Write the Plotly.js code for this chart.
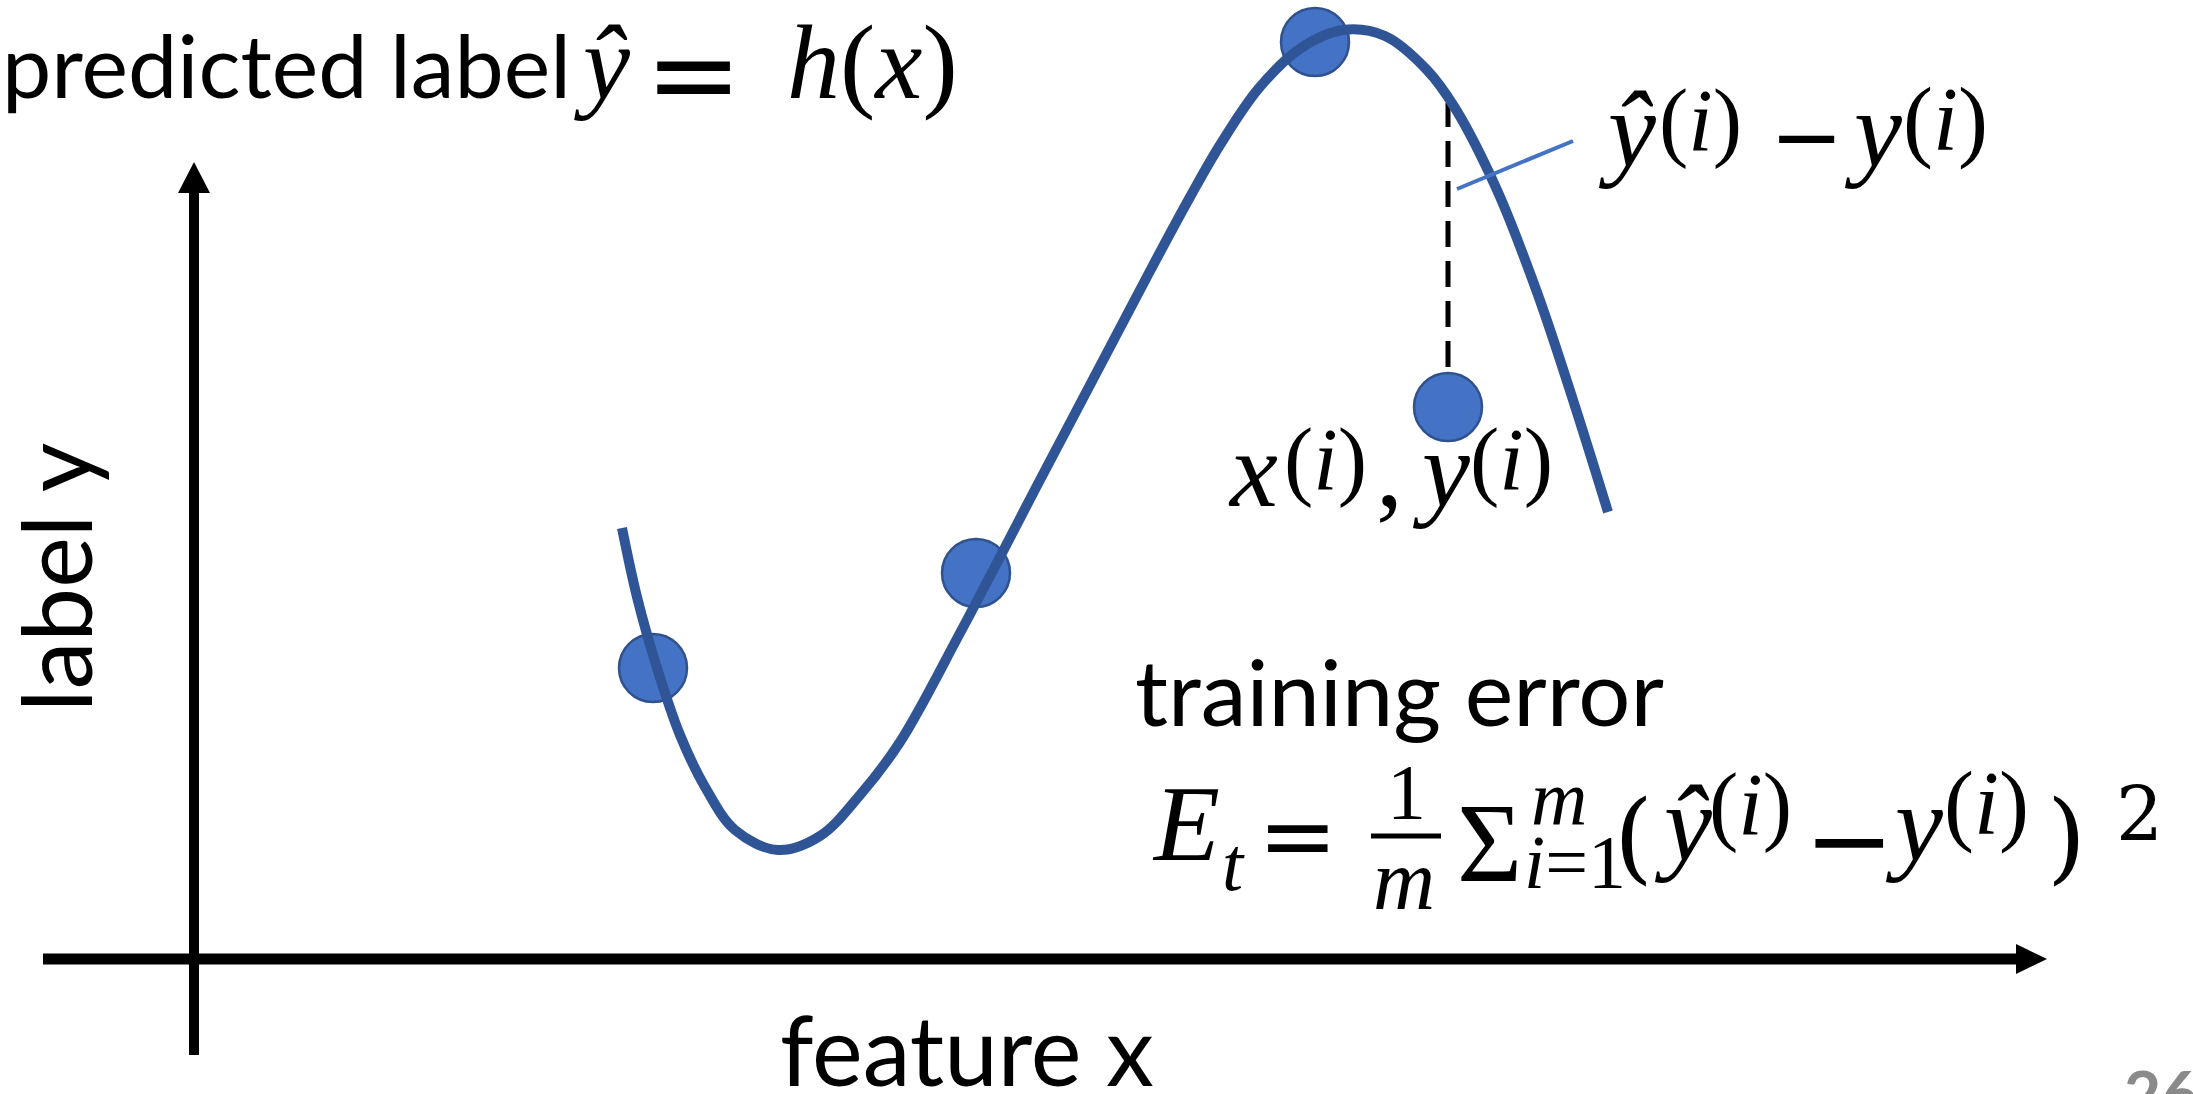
<!DOCTYPE html>
<html>
<head>
<meta charset="utf-8">
<script src="https://cdn.plot.ly/plotly-3.0.1.min.js"></script>
<style>
  html, body { margin: 0; padding: 0; background: #ffffff; overflow: hidden; }
  #chart { width: 2193px; height: 1094px; }
</style>
</head>
<body>
<div id="chart"></div>
<script>
// Hypothesis h(x): sampled points of the fitted curve (feature x, label y units)
const curveX = [4.28, 4.43, 4.63, 4.86, 5.11, 5.41, 5.84, 6.26, 6.66, 7.06, 7.66,
                8.46, 9.06, 9.56, 9.96, 10.26, 10.65, 11.07, 11.49, 11.91, 12.33, 12.61, 13.03, 13.44, 13.79, 14.14];
const curveY = [4.31, 3.62, 2.91, 2.24, 1.72, 1.29, 1.09, 1.23, 1.64, 2.17, 3.26,
                4.79, 5.93, 6.88, 7.62, 8.14, 8.71, 9.11, 9.29, 9.23, 8.89, 8.51, 7.69, 6.64, 5.59, 4.47];

// Training samples (x^(i), y^(i))
const sampleX = [4.59, 7.82, 11.21, 12.54];
const sampleY = [2.91, 3.86, 9.17, 5.52];

// Highlighted sample and its prediction y-hat = h(x) on the curve
const errX = [12.54, 12.54];
const errY = [5.52, 8.56];

// Axis extents (same units)
const xAxisSpan = [-1.51, 18.53];
const yAxisSpan = [-0.96, 7.97];

// Plot window, 1 unit = 100 px
const W = 2193, H = 1094;
const xRange = [-1.94, -1.94 + W / 100];
const yRange = [9.59 - H / 100, 9.59];

const BLUE_DARK = '#2F5597';
const BLUE = '#4472C4';
const SANS = 'Lato, "Open Sans", sans-serif';
const SERIF = '"Liberation Serif", "DejaVu Serif", serif';
const OPS = '"DejaVu Sans", sans-serif';
const BRACKET = '"DejaVu Serif", serif';

// distance from baseline up to the middle of the text box, per em
const MID = { [SANS]: 0.387, [SERIF]: 0.3375, [OPS]: 0.346, [BRACKET]: 0.346 };

function note(px, py, text, opts) {
  return Object.assign({
    xref: 'paper', yref: 'paper', x: px / W, y: 1 - py / H,
    text: text, showarrow: false,
    xanchor: 'left', yanchor: 'middle',
    font: { family: SANS, size: 92, color: '#000000' }
  }, opts || {});
}
// text piece placed on a baseline
function onBase(text, px, base, size, family, opts) {
  const fam = family || SERIF;
  return note(px, base - MID[fam] * size, text,
    Object.assign({ font: { family: fam, size: size, color: '#000000' } }, opts || {}));
}
// text piece placed by the middle of its box
function onMid(text, px, mid, size, family, opts) {
  return note(px, mid, text,
    Object.assign({ font: { family: family || SERIF, size: size, color: '#000000' } }, opts || {}));
}
function v(s) { return '<i>' + s + '</i>'; }
const IDX = '(' + v('i') + ')';

const traces = [
  {
    x: errX, y: errY, type: 'scatter', mode: 'lines',
    line: { color: '#000000', width: 5, dash: '26px,14px' },
    hoverinfo: 'skip', showlegend: false
  },
  {
    x: sampleX, y: sampleY, type: 'scatter', mode: 'markers',
    marker: { size: 68, color: BLUE, opacity: 1, line: { color: '#2F528F', width: 2.5 } },
    hoverinfo: 'skip', showlegend: false
  },
  {
    x: curveX, y: curveY, type: 'scatter', mode: 'lines',
    line: { color: BLUE_DARK, width: 10, shape: 'spline', smoothing: 1 },
    hoverinfo: 'skip', showlegend: false
  }
];

const shapes = [
  // horizontal axis with arrow head
  { type: 'line', xref: 'x', yref: 'y', x0: xAxisSpan[0], x1: xAxisSpan[1] - 0.31, y0: 0, y1: 0,
    line: { color: '#000000', width: 11 } },
  { type: 'path', xref: 'x', yref: 'y',
    path: `M ${xAxisSpan[1] - 0.31} 0.15 L ${xAxisSpan[1]} 0 L ${xAxisSpan[1] - 0.31} -0.15 Z`,
    fillcolor: '#000000', line: { width: 0 } },
  // vertical axis with arrow head
  { type: 'line', xref: 'x', yref: 'y', x0: 0, x1: 0, y0: yAxisSpan[0], y1: yAxisSpan[1] - 0.31,
    line: { color: '#000000', width: 10 } },
  { type: 'path', xref: 'x', yref: 'y',
    path: `M -0.16 ${yAxisSpan[1] - 0.31} L 0 ${yAxisSpan[1]} L 0.16 ${yAxisSpan[1] - 0.31} Z`,
    fillcolor: '#000000', line: { width: 0 } },
  // leader line for the error label
  { type: 'line', xref: 'x', yref: 'y', x0: 12.63, y0: 7.70, x1: 13.79, y1: 8.18,
    line: { color: BLUE, width: 4 } },
  // fraction bar of 1/m
  { type: 'line', xref: 'paper', yref: 'paper', x0: 1371 / W, x1: 1441 / W, y0: 1 - 836 / H, y1: 1 - 836 / H,
    line: { color: '#000000', width: 5 } }
];

const annotations = [
  // title: predicted label ŷ = h(x)
  onBase('predicted label', 0, 98, 88, SANS),
  onBase(v('ŷ'), 572, 98, 106),
  onMid('=', 643, 73, 116, OPS),
  onBase(v('h') + '(' + v('x') + ')', 785, 98, 106),

  // axis names and caption
  note(54, 578, 'label y', { xanchor: 'center', textangle: -90, font: { family: SANS, size: 96, color: '#000000' } }),
  note(967, 1048, 'feature x', { xanchor: 'center', font: { family: SANS, size: 96, color: '#000000' } }),
  onBase('training error', 1133, 726, 92, SANS),

  // ŷ(i) − y(i)
  onBase(v('ŷ'), 1596, 166, 108),
  onMid(IDX, 1657, 120, 88),
  onMid('−', 1768, 137, 88, OPS),
  onBase(v('y'), 1842, 166, 108),
  onMid(IDX, 1901, 120, 90),

  // x(i), y(i)
  onBase(v('x'), 1226, 506, 108),
  onMid(IDX, 1282, 459, 88),
  onBase(',', 1374, 506, 108),
  onBase(v('y'), 1410, 506, 108),
  onMid(IDX, 1468, 459, 88),

  // E_t = 1/m Σ_{i=1}^m (ŷ(i) − y(i))^2
  onBase(v('E'), 1150, 860, 108),
  onBase(v('t'), 1220, 890, 76),
  onMid('=', 1256, 835, 95, OPS),
  onBase('1', 1406, 818, 78, SERIF, { xanchor: 'center' }),
  onBase(v('m'), 1404, 909, 86, SERIF, { xanchor: 'center' }),
  onBase('Σ', 1455, 881, 112),
  onBase(v('m'), 1529, 825, 78),
  onBase(v('i') + '=1', 1522, 888, 76),
  onMid('(', 1612, 836, 100, BRACKET),
  onBase(v('ŷ'), 1652, 860, 108),
  onMid(IDX, 1707, 804, 88),
  onMid('−', 1802, 839, 108, OPS),
  onBase(v('y'), 1883, 860, 108),
  onMid(IDX, 1942, 804, 90),
  onMid(')', 2045, 836, 100, BRACKET),
  onBase('2', 2114, 840, 74, BRACKET),

  // slide number at the page bottom
  note(2122, 1092, '26', { font: { family: SANS, size: 64, color: '#8a8a8a', weight: 'bold' } })
];

const layout = {
  width: W, height: H,
  margin: { l: 0, r: 0, t: 0, b: 0, pad: 0 },
  paper_bgcolor: '#ffffff', plot_bgcolor: '#ffffff',
  showlegend: false,
  xaxis: { range: xRange, visible: false, fixedrange: true },
  yaxis: { range: yRange, visible: false, fixedrange: true },
  shapes: shapes,
  annotations: annotations
};

Plotly.newPlot('chart', traces, layout, { staticPlot: true, displayModeBar: false });
</script>
</body>
</html>
